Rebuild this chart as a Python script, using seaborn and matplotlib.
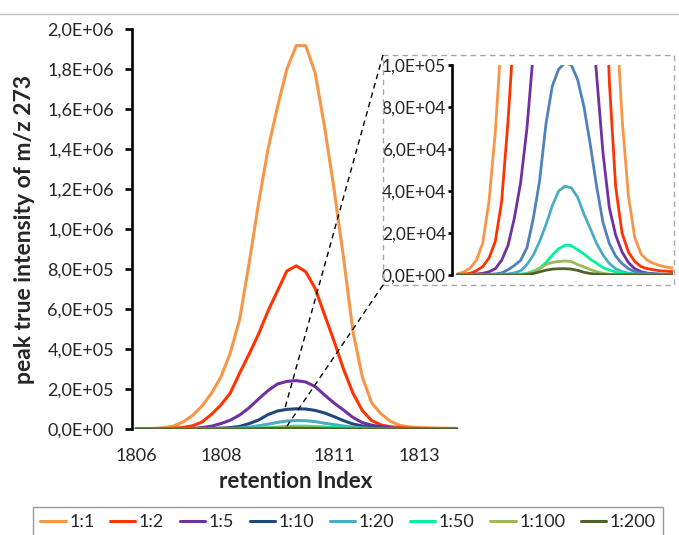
import numpy as np
import pandas as pd
import matplotlib
matplotlib.use("Agg")
import matplotlib.pyplot as plt
import seaborn as sns
from matplotlib.lines import Line2D
from matplotlib.patches import Rectangle
from matplotlib.ticker import FuncFormatter, FixedLocator

# ---------------- data (values in thousands of counts) ----------------
ratios = ["1:1", "1:2", "1:5", "1:10", "1:20", "1:50", "1:100", "1:200"]
tick_index = [0, 9, 21, 30]
tick_labels = ["1806", "1808", "1811", "1813"]

r_1_1 = [0.5, 1.5, 3.2, 7, 15, 35, 68, 115, 178, 260, 380, 550, 830, 1130, 1400, 1610, 1800, 1917,
         1917, 1780, 1510, 1200, 860, 490, 260, 130, 75, 38, 18, 10, 7, 5.5, 4.5, 3.8, 3.3]
r_1_2 = [0.2, 0.4, 0.8, 2, 4, 8, 16, 35, 73, 120, 180, 280, 375, 475, 590, 690, 790, 816,
         786, 703, 570, 440, 300, 180, 92, 42, 20, 11, 6.5, 4, 3, 2.5, 2, 1.8, 1.6]
r_1_5 = [0.1, 0.2, 0.3, 0.5, 0.8, 1.5, 3, 7, 14, 27, 44, 70, 106, 150, 192, 225, 238, 242,
         235, 212, 170, 130, 95, 58, 32, 19, 11, 6, 3, 1.6, 0.9, 0.6, 0.4, 0.3, 0.3]
r_1_10 = [0, 0, 0.05, 0.1, 0.2, 0.3, 0.5, 1, 2.5, 4.5, 7, 13, 27, 45, 72, 90, 98, 101,
          100, 93, 80, 62, 42, 25, 15, 9, 5.5, 3, 1.6, 1, 0.7, 0.5, 0.4, 0.3, 0.3]
r_1_20 = [0, 0, 0, 0, 0, 0.1, 0.2, 0.3, 0.5, 1, 2, 5, 9.5, 16, 24, 33, 40, 42.3,
          41.5, 37, 29, 22, 15, 9.5, 5.5, 3, 1.6, 0.9, 0.5, 0.3, 0.2, 0.2, 0.2, 0.2, 0.2]
r_1_50 = [0, 0, 0, 0, 0, 0, 0, 0, 0, 0.2, 0.4, 0.8, 1.8, 3.2, 6, 9.5, 12.5, 14.2,
          14, 12, 10, 7.5, 5.6, 3.5, 2.4, 1.5, 0.9, 0.5, 0.3, 0.2, 0.2, 0.2, 0.2, 0.2, 0.2]
r_1_100 = [0, 0, 0, 0, 0, 0, 0, 0, 0, 0, 0.2, 0.5, 1.5, 3, 5, 6, 6.4, 6.7,
           6.4, 5, 3.8, 2.6, 1.6, 0.8, 0.4, 0.2, 0.1, 0.1, 0.1, 0.1, 0.1, 0.1, 0.1, 0.1, 0.1]
r_1_200 = [0, 0, 0, 0, 0, 0, 0, 0, 0, 0, 0, 0.2, 0.7, 1.5, 2.3, 2.8, 3.0, 3.0,
           2.8, 2.2, 1.3, 0.7, 0.4, 0.2, 0.1, 0.1, 0.1, 0.1, 0.1, 0.1, 0.1, 0.1, 0.1, 0.1, 0.1]

series = [r_1_1, r_1_2, r_1_5, r_1_10, r_1_20, r_1_50, r_1_100, r_1_200]

colors_main = ["#F79646", "#FF3300", "#7030A0", "#1F497D", "#4BACC6", "#00F59B", "#9BBB59", "#4F6228"]
colors_inset = ["#F79646", "#FF3300", "#7030A0", "#4F81BD", "#4BACC6", "#00F59B", "#9BBB59", "#4F6228"]

rows = []
for name, vals in zip(ratios, series):
    for i, v in enumerate(vals):
        rows.append({"idx": i, "value": v * 1e3, "ratio": name})
df = pd.DataFrame(rows)

# ---------------- style ----------------
sns.set_style("white")
plt.rcParams["font.family"] = ["Lato", "DejaVu Sans"]

W, H = 679, 535
fig = plt.figure(figsize=(W / 100, H / 100), dpi=100)


def fx(px):
    return px / W


def fy(py):
    return 1 - py / H


def sci_comma(v, pos):
    return ("%.1E" % v).replace(".", ",")


# ---------------- main axes ----------------
ax = fig.add_axes([fx(132), fy(429), fx(460) - fx(132), fy(29) - fy(429)])
sns.lineplot(data=df, x="idx", y="value", hue="ratio", hue_order=ratios,
             palette=colors_main, linewidth=2.2, legend=False, ax=ax)
ax.set_xlim(-0.424, 34.36)
ax.set_ylim(0, 2.0e6)
ax.yaxis.set_major_locator(FixedLocator(np.arange(0, 2.0e6 + 1, 2e5)))
ax.yaxis.set_major_formatter(FuncFormatter(sci_comma))
ax.set_xticks(tick_index)
ax.set_xticklabels(tick_labels)
for s in ["top", "right", "bottom"]:
    ax.spines[s].set_visible(False)
ax.spines["left"].set_linewidth(1.9)
ax.spines["left"].set_color("black")
ax.tick_params(axis="y", direction="out", length=5, width=1.9, color="black",
               pad=8, labelsize=13, left=True)
ax.tick_params(axis="x", length=0, pad=14, labelsize=13)
ax.set_xlabel("retention Index", fontsize=16, fontweight="bold", labelpad=5)
ax.set_ylabel("peak true intensity of m/z 273", fontsize=16.5, fontweight="bold", labelpad=9)
ax.patch.set_alpha(0)

# ---------------- inset ----------------
ix0, ix1, iy0, iy1 = 451.7, 673.0, 275.0, 65.0
ins = fig.add_axes([fx(ix0), fy(iy0), fx(ix1) - fx(ix0), fy(iy1) - fy(iy0)])
sns.lineplot(data=df, x="idx", y="value", hue="ratio", hue_order=ratios,
             palette=colors_inset, linewidth=2.0, legend=False, ax=ins)
ins.set_xlim(-0.883, 34.05)
ins.set_ylim(0, 1.0e5)
ins.yaxis.set_major_locator(FixedLocator(np.arange(0, 1.0e5 + 1, 2e4)))
ins.yaxis.set_major_formatter(FuncFormatter(sci_comma))
ins.set_xticks([])
ins.set_xlabel("")
ins.set_ylabel("")
for s in ["top", "right", "bottom"]:
    ins.spines[s].set_visible(False)
ins.spines["left"].set_linewidth(1.9)
ins.spines["left"].set_color("black")
ins.tick_params(axis="y", direction="out", length=3.2, width=1.9, color="black",
                pad=1, labelsize=12.5, left=True)
ins.patch.set_alpha(0)

# inset frame (dashed grey)
fig.add_artist(Rectangle((fx(383), fy(285)), fx(674) - fx(383), fy(55) - fy(285),
                         transform=fig.transFigure, fill=False, edgecolor="#A6A6A6",
                         linewidth=1.0, linestyle=(0, (4, 3))))
# connector lines
fig.add_artist(Line2D([fx(383), fx(285)], [fy(55), fy(408)], transform=fig.transFigure,
                      color="black", linewidth=1.0, linestyle=(0, (4, 3))))
fig.add_artist(Line2D([fx(383), fx(285)], [fy(285), fy(429)], transform=fig.transFigure,
                      color="black", linewidth=1.0, linestyle=(0, (4, 3))))

# top grey border line
fig.add_artist(Line2D([0, 1], [fy(14), fy(14)], transform=fig.transFigure,
                      color="#BFBFBF", linewidth=1.0))

# ---------------- legend ----------------
handles = [Line2D([0], [0], color=c, linewidth=2.2) for c in colors_main]
leg = fig.legend(handles, ratios, loc="upper left", ncol=8,
                 bbox_to_anchor=(fx(33), fy(507) - 0.05, fx(663) - fx(33), 0.05),
                 mode="expand", frameon=True, fancybox=False, fontsize=13,
                 handlelength=1.4, handletextpad=0.2, columnspacing=0.5,
                 borderpad=0.4, borderaxespad=0)
leg.get_frame().set_edgecolor("#808080")
leg.get_frame().set_linewidth(1.0)

fig.savefig("out.png", dpi=100)
